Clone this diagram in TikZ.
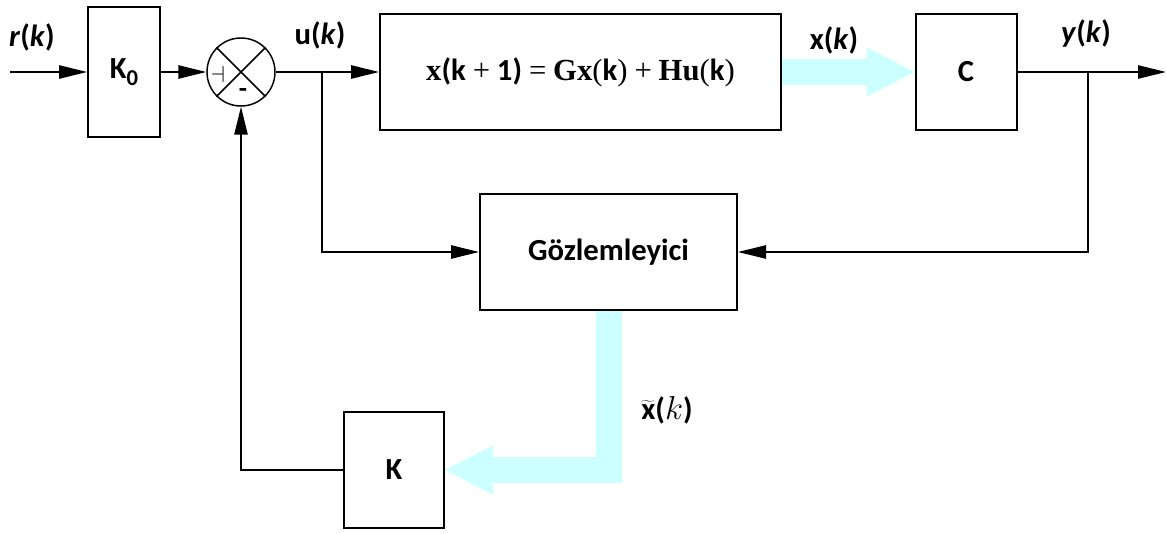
\documentclass[tikz,border=0pt]{standalone}
\usepackage{fontspec}
\setmainfont{Carlito}
\newfontfamily\eqserif{Liberation Serif}
\usetikzlibrary{arrows.meta,backgrounds}

\definecolor{flowcyan}{RGB}{204,255,255}
\newcommand{\eqb}[1]{{\eqserif\bfseries #1}}
\newcommand{\eqr}[1]{{\eqserif\mdseries #1}}

\tikzset{every picture/.style={line width=0.75pt}}
\tikzset{
block/.style={draw, line width=1.5pt, inner sep=0pt, font=\bfseries\fontsize{23}{28}\selectfont},
wire/.style={line width=1.1pt},
sig/.style={wire, -{Triangle[length=21pt,width=10pt]}},
vecflow/.style={draw=flowcyan, line width=19.5pt, line join=miter, -{Triangle[length=36pt,width=37pt,line width=0pt]}},
lbl/.style={anchor=base, inner sep=0pt, font=\bfseries\fontsize{23}{28}\selectfont}}

\begin{document}
\begin{tikzpicture}[x=0.75pt,y=0.75pt,yscale=-1,xscale=1]
\useasboundingbox (0,0) rectangle (1167,534);

%Flowchart: Process
\node[block, minimum width=54pt, minimum height=97.5pt] (k0) at (124,72) {K\raisebox{-0.22em}{\fontsize{17}{20}\selectfont 0}};
%Shape: Circle
\node[draw, circle, line width=1.1pt, minimum size=51pt, inner sep=0pt] (sum) at (241,72) {};
\draw[wire] (sum.45) -- (sum.225) (sum.135) -- (sum.315);
%Flowchart: Process
\node[block, minimum width=300.75pt, minimum height=87pt] (plant) at (580.5,72)
  {\raisebox{-6pt}{\eqb{x}(k \eqr{+} 1) \eqr{=} \eqb{Gx}\eqr{(}k\eqr{)} \eqr{+} \eqb{Hu}\eqr{(}k\eqr{)}}};
%Flowchart: Process
\node[block, minimum width=75.75pt, minimum height=87pt] (cbox) at (966,72) {C};
%Flowchart: Process
\node[block, minimum width=192.75pt, minimum height=87pt] (obs) at (608.5,252) {Gözlemleyici};
%Flowchart: Process
\node[block, minimum width=75pt, minimum height=87pt] (kbox) at (394,470) {K};

\coordinate (in) at (10,72);
\coordinate (out) at (1166,72);
\coordinate (ubr) at (322,72);
\coordinate (ybr) at (1088,72);

%Straight Lines
\draw[sig] (in) -- (k0.west);
\draw[sig] (k0.east) -- (sum.west);
\draw[sig] (sum.east) -- (plant.west);
\draw[sig] (ubr) |- (obs.west);
\draw[sig] (cbox.east) -- (out);
\draw[sig] (ybr) |- (obs.east);
\draw[sig] (kbox.west) -| (sum.south);

%Block Arrows
\begin{scope}[on background layer]
\draw[vecflow] (plant.east) -- (cbox.west);
\draw[vecflow] (obs.south) |- (kbox.east);
\end{scope}

% Text Node
\node[lbl] (rlbl) at (32,47) {\textit{r}(\textit{k})};
% Text Node
\node[lbl] (ulbl) at (320,45) {u(\textit{k})};
% Text Node
\node[lbl] (xlbl) at (834,50) {x(\textit{k})};
% Text Node
\node[lbl] (ylbl) at (1086,43) {\textit{y}(\textit{k})};
% Text Node
\node[lbl] (xhlbl) at (667,420) {$\widetilde{\hbox{\bfseries x}}$(${k}$)};
% Text Node
\node[inner sep=0pt, font=\fontsize{16}{16}\selectfont] (plus) at (218,75) {$\dashv$};
% Text Node
\node[inner sep=0pt, font=\bfseries\fontsize{20}{20}\selectfont] (minus) at (243,93) {-};

\end{tikzpicture}
\end{document}
